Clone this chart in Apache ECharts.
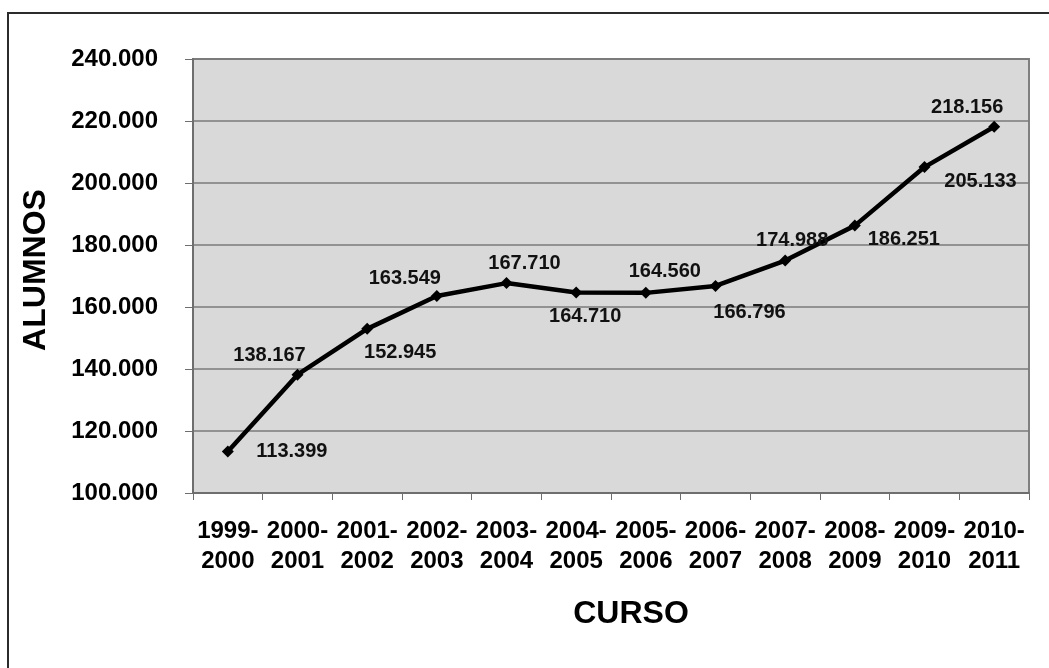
<!DOCTYPE html>
<html>
<head>
<meta charset="utf-8">
<script src="https://cdn.jsdelivr.net/npm/echarts@6/dist/echarts.min.js"></script>
<style>
  html, body { margin: 0; padding: 0; background: #fff; }
  #chart { width: 1049px; height: 668px; }
</style>
</head>
<body>
<div id="chart"></div>
<script>
// School years (curso) and enrolled students (alumnos)
const cursos = ['1999-\n2000', '2000-\n2001', '2001-\n2002', '2002-\n2003', '2003-\n2004', '2004-\n2005',
                '2005-\n2006', '2006-\n2007', '2007-\n2008', '2008-\n2009', '2009-\n2010', '2010-\n2011'];
const alumnos = [113399, 138167, 152945, 163549, 167710, 164710, 164560, 166796, 174988, 186251, 205133, 218156];

// Value axis range
const yMin = 100000;
const yMax = 240000;
const yStep = 20000;

// Where each value label sits relative to its point (px)
const labelOffsets = [
  [64, 0], [-28, -19], [33, 24], [-32, -18], [18, -20], [9, 24],
  [19, -21], [34, 27], [7, -20], [49, 14], [56, 14], [-27, -19]
];

const FONT = '"Liberation Sans", Arial, sans-serif';

// Spanish-style thousands separator: 113399 -> 113.399
function fmt(v) {
  return String(Math.round(v)).replace(/\B(?=(\d{3})+(?!\d))/g, '.');
}

const chart = echarts.init(document.getElementById('chart'), null, { renderer: 'canvas' });

chart.setOption({
  animation: false,
  backgroundColor: '#ffffff',
  graphic: [{
    type: 'rect',
    shape: { x: 8, y: 13, width: 1100, height: 700 },
    style: { fill: 'none', stroke: '#2b2b2b', lineWidth: 2 },
    silent: true,
    z: 0
  }],
  grid: {
    left: 193, top: 59, right: 20, bottom: 175,
    show: true,
    backgroundColor: '#d9d9d9',
    borderColor: '#808080',
    borderWidth: 2
  },
  xAxis: {
    type: 'category',
    data: cursos,
    boundaryGap: true,
    name: 'CURSO',
    nameLocation: 'middle',
    nameGap: 105,
    nameTextStyle: { fontFamily: FONT, fontWeight: 'bold', fontSize: 32, color: '#000', padding: [0, 0, 0, 40] },
    axisLine: { show: true, lineStyle: { color: '#6e6e6e', width: 2 } },
    axisTick: { show: true, alignWithLabel: false, length: 7, lineStyle: { color: '#6e6e6e', width: 1 } },
    axisLabel: {
      interval: 0,
      margin: 23,
      fontFamily: FONT, fontWeight: 'bold', fontSize: 24, color: '#000',
      lineHeight: 30
    },
    splitLine: { show: false }
  },
  yAxis: {
    type: 'value',
    min: yMin, max: yMax, interval: yStep,
    name: 'ALUMNOS',
    nameLocation: 'middle',
    nameRotate: 90,
    nameGap: 141,
    nameTextStyle: { fontFamily: FONT, fontWeight: 'bold', fontSize: 32, color: '#000', padding: [0, 0, 0, 12] },
    axisLine: { show: true, lineStyle: { color: '#6e6e6e', width: 2 } },
    axisTick: { show: true, length: 8, lineStyle: { color: '#6e6e6e', width: 1 } },
    axisLabel: {
      margin: 35,
      fontFamily: FONT, fontWeight: 'bold', fontSize: 24, color: '#000',
      formatter: fmt
    },
    splitLine: { show: true, lineStyle: { color: '#7a7a7a', width: 1.5 } }
  },
  series: [{
    type: 'line',
    data: alumnos.map((v, i) => ({ value: v, label: { offset: labelOffsets[i] } })),
    symbol: 'diamond',
    symbolSize: 12,
    lineStyle: { color: '#000', width: 4.5 },
    itemStyle: { color: '#000' },
    label: {
      show: true,
      position: 'inside',
      align: 'center',
      verticalAlign: 'middle',
      fontFamily: FONT, fontWeight: 'bold', fontSize: 20, color: '#111',
      formatter: p => fmt(p.value)
    },
    z: 3
  }]
});
</script>
</body>
</html>
